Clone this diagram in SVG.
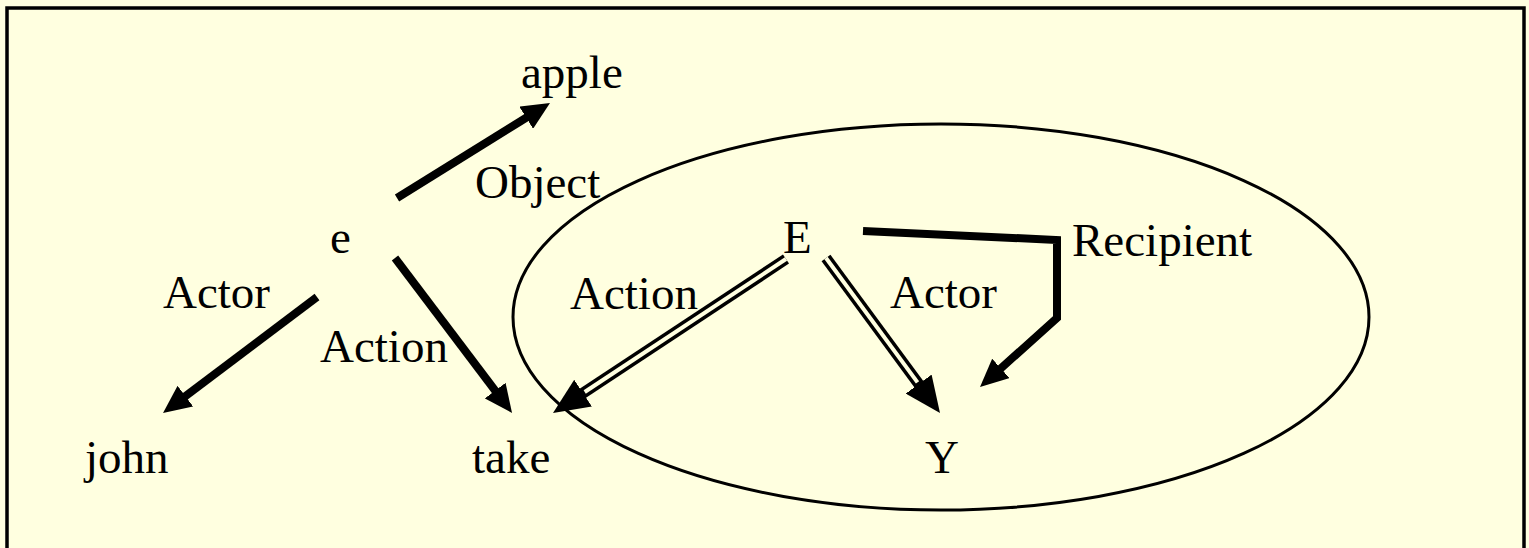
<svg xmlns="http://www.w3.org/2000/svg" width="1529" height="548" viewBox="0 0 1529 548">
<defs>
<style>
text{font-family:"Liberation Serif","Times New Roman",serif;font-size:47px;fill:#000}
.ln{fill:none;stroke:#000;stroke-width:8}
.dbl{fill:none;stroke:#000;stroke-width:11}
.gap{fill:none;stroke:#FFFFE0;stroke-width:4}
</style>
<marker id="arr" viewBox="0 0 28 26" refX="8" refY="13" markerWidth="28" markerHeight="26" markerUnits="userSpaceOnUse" orient="auto">
<path d="M0,0 L28,13 L0,26 z" fill="#000"/>
</marker>
<marker id="arrBig" viewBox="0 0 36 32" refX="10" refY="16" markerWidth="36" markerHeight="32" markerUnits="userSpaceOnUse" orient="auto">
<path d="M0,0 L36,16 L0,32 z" fill="#000"/>
</marker>
</defs>
<rect x="0" y="0" width="1529" height="548" fill="#FFFFE0"/>
<rect x="7" y="8" width="1517" height="560" fill="#FFFFE0" stroke="#000" stroke-width="3.5"/>
<ellipse id="context" cx="941" cy="317" rx="428" ry="193" fill="none" stroke="#000" stroke-width="3"/>
<g id="connectors">
<line class="ln" x1="397" y1="198" x2="533" y2="113.5" marker-end="url(#arr)"/>
<line class="ln" x1="317" y1="297" x2="179" y2="401" marker-end="url(#arr)"/>
<line class="ln" x1="395" y1="258" x2="500" y2="397" marker-end="url(#arr)"/>
<line class="dbl" x1="786" y1="259" x2="574.7" y2="398.6" marker-end="url(#arrBig)"/>
<line class="gap" x1="786" y1="259" x2="584.7" y2="392"/>
<line class="dbl" x1="826" y1="258" x2="924.6" y2="392.1" marker-end="url(#arrBig)"/>
<line class="gap" x1="826" y1="258" x2="917.5" y2="382.4"/>
<polyline class="ln" points="863,231 1057,240 1057,318 994.9,373.7" stroke-linejoin="miter" marker-end="url(#arr)"/>
</g>
<g id="labels">
<text x="475" y="198">Object</text>
<text x="163" y="308">Actor</text>
<text x="320" y="362">Action</text>
<text x="570" y="309">Action</text>
<text x="890" y="308">Actor</text>
<text x="1072" y="256">Recipient</text>
</g>
<g id="node-apple"><text x="521" y="88">apple</text></g>
<g id="node-e"><text x="330" y="253">e</text></g>
<g id="node-E"><text x="783" y="253">E</text></g>
<g id="node-john"><text x="85" y="473">john</text></g>
<g id="node-take"><text x="472" y="473">take</text></g>
<g id="node-Y"><text x="925" y="473">Y</text></g>
</svg>
